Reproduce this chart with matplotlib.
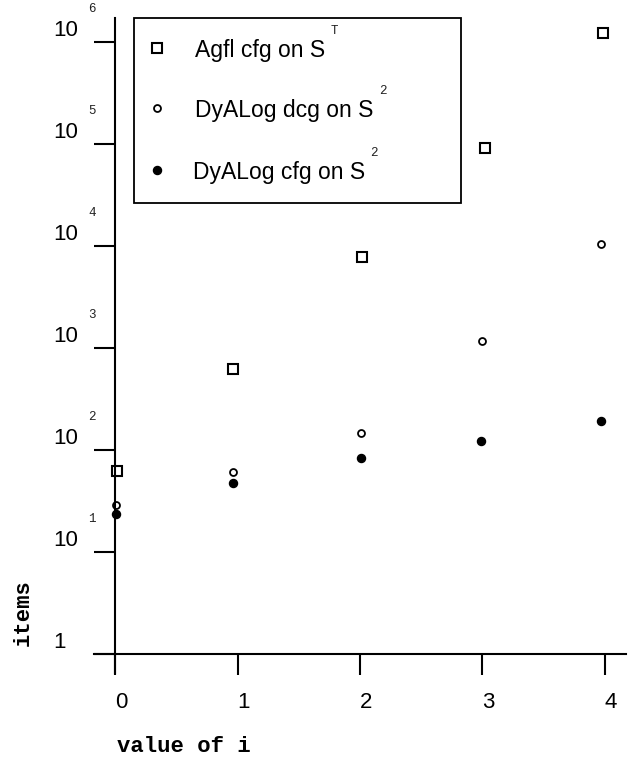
import matplotlib
matplotlib.use("Agg")
import matplotlib.pyplot as plt
from matplotlib.lines import Line2D
from matplotlib.patches import Rectangle

# data (x positions keep the slight drift of the original)
x_agfl = [0.02, 0.96, 2.02, 3.02, 3.98]
agfl_cfg = [62, 622, 7800, 91000, 1230000]
x_dcg = [0.01, 0.96, 2.01, 3.0, 3.97]
dyalog_dcg = [29, 61, 147, 1170, 10500]
x_cfg = [0.01, 0.96, 2.01, 2.99, 3.97]
dyalog_cfg = [23.6, 47.5, 83, 122, 192]

x_ticks = [0, 1, 2, 3, 4]
y_exps = [0, 1, 2, 3, 4, 5, 6]

legend_labels = ["Agfl cfg on S", "DyALog dcg on S", "DyALog cfg on S"]
legend_sups = ["T", "2", "2"]

W, H = 640, 758
SANS = "Liberation Sans"
MONO = "Liberation Mono"
FS = 16

fig = plt.figure(figsize=(W / 100, H / 100), dpi=100)
ax = fig.add_axes([94 / W, 1 - 673 / H, 532 / W, 655 / H])
ax.set_yscale("log")
ax.set_xlim(-21 / 122.5, 511 / 122.5)
ax.set_ylim(10 ** (-19 / 102), 10 ** (636 / 102))

for s in ["top", "right"]:
    ax.spines[s].set_visible(False)
ax.spines["left"].set_position(("data", 0))
ax.spines["bottom"].set_position(("data", 1))
for s in ["left", "bottom"]:
    ax.spines[s].set_linewidth(1.5)

ax.set_xticks(x_ticks)
ax.set_yticks([10 ** e for e in y_exps])
ax.yaxis.set_minor_locator(matplotlib.ticker.NullLocator())
ax.tick_params(length=15, width=1.5, direction="out", labelleft=False, labelbottom=False)

# tick labels, drawn by hand like the original
for e in y_exps:
    if e == 0:
        ax.annotate("1", xy=(0, 1), xytext=(-62, 12), textcoords="offset pixels",
                    ha="left", va="center", fontsize=FS, family=SANS)
        continue
    ax.annotate("10", xy=(0, 10 ** e), xytext=(-62, 12), textcoords="offset pixels",
                ha="left", va="center", fontsize=FS, family=SANS)
    ax.annotate(str(e), xy=(0, 10 ** e), xytext=(-23, 33), textcoords="offset pixels",
                ha="center", va="center", fontsize=9, family=MONO, color="#222222")
for t in x_ticks:
    ax.annotate(str(t), xy=(t, 1), xytext=(6, -48), textcoords="offset pixels",
                ha="center", va="center", fontsize=FS, family=SANS)

# points
ax.plot(x_agfl, agfl_cfg, ls="none", marker="s", ms=6.5, mfc="white", mec="black", mew=1.5,
        clip_on=False)
ax.plot(x_dcg, dyalog_dcg, ls="none", marker="o", ms=5, mfc="white", mec="black", mew=1.3,
        clip_on=False)
ax.plot(x_cfg, dyalog_cfg, ls="none", marker="o", ms=5.8, mfc="black", mec="black", mew=1,
        clip_on=False)

# axis titles
fig.text(23 / W, 1 - 613 / H, "items", rotation=90, ha="center", va="center",
         fontsize=16, family=MONO, fontweight="bold")
fig.text(184 / W, 1 - 747 / H, "value of i", ha="center", va="center",
         fontsize=16, family=MONO, fontweight="bold")

# legend box
fig.add_artist(Rectangle((134 / W, 1 - 203 / H), 327 / W, 185 / H, transform=fig.transFigure,
                         fill=False, ec="black", lw=1.3))
leg_y = [50, 110, 172]
leg_style = [dict(marker="s", ms=6.5, mfc="white", mew=1.5),
             dict(marker="o", ms=5, mfc="white", mew=1.3),
             dict(marker="o", ms=5.8, mfc="black", mew=1)]
marker_y = [48, 108, 170]
text_x = [195, 195, 193]
fig.canvas.draw()
for lab, sup, y, my, st, tx in zip(legend_labels, legend_sups, leg_y, marker_y, leg_style, text_x):
    fig.add_artist(Line2D([157 / W], [1 - my / H], transform=fig.transFigure, ls="none",
                          mec="black", **st))
    t = fig.text(tx / W, 1 - y / H, lab, ha="left", va="center", fontsize=16.5, family=SANS)
    bb = t.get_window_extent(renderer=fig.canvas.get_renderer())
    fig.text((bb.x1 + 9) / W, 1 - (y - 19) / H, sup, ha="center", va="center",
             fontsize=9, family=MONO, color="#222222")

fig.savefig("out.png", dpi=100)
